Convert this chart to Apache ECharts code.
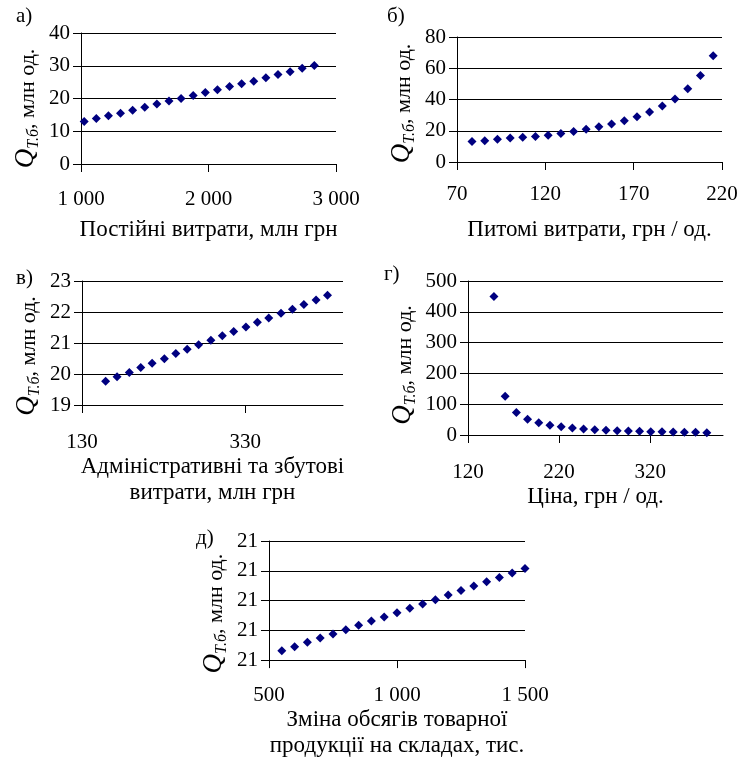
<!DOCTYPE html>
<html>
<head>
<meta charset="utf-8">
<script src="https://cdn.jsdelivr.net/npm/echarts@6/dist/echarts.min.js"></script>
<style>
  html, body { margin: 0; padding: 0; background: #fff; }
  #chart { width: 750px; height: 760px; }
</style>
</head>
<body>
<div id="chart"></div>
<script>
// а) постійні витрати
var fixedCost = [1025, 1120, 1215, 1310, 1405, 1500, 1595, 1690, 1785, 1880, 1975, 2070, 2165, 2260, 2355, 2450, 2545, 2640, 2735, 2830];
var qFixed = [13.0, 13.9, 14.7, 15.5, 16.4, 17.3, 18.3, 19.2, 20.0, 20.9, 21.8, 22.7, 23.7, 24.5, 25.3, 26.3, 27.3, 28.2, 29.2, 30.1];
// б) питомі витрати
var unitCost = [78.5, 85.7, 92.9, 100.1, 107.2, 114.4, 121.6, 128.8, 136.0, 143.1, 150.3, 157.5, 164.7, 171.9, 179.0, 186.2, 193.4, 200.6, 207.8, 215.0];
var qUnit = [13.2, 13.6, 14.5, 15.4, 15.8, 16.4, 17.1, 18.3, 19.6, 20.9, 22.6, 24.3, 26.4, 29.0, 32.0, 35.8, 40.3, 46.9, 55.4, 68.0];
// в) адміністративні та збутові витрати
var adminCost = [159, 173, 188, 202, 216, 231, 245, 259, 273, 288, 302, 316, 331, 345, 359, 374, 388, 402, 417, 431];
var qAdmin = [19.77, 19.91, 20.05, 20.21, 20.35, 20.49, 20.66, 20.80, 20.94, 21.09, 21.23, 21.37, 21.52, 21.67, 21.81, 21.96, 22.09, 22.24, 22.39, 22.54];
// г) ціна
var price = [148.5, 160.8, 173.1, 185.4, 197.7, 210.0, 222.3, 234.6, 246.9, 259.2, 271.5, 283.8, 296.1, 308.4, 320.7, 333.0, 345.3, 357.6, 369.9, 382.2];
var qPrice = [450, 126, 73, 51, 40, 32, 27, 23, 19.4, 17.3, 15.1, 14, 13, 11.9, 10.8, 10.5, 9.7, 8.6, 8.6, 7.6];
// д) зміна обсягів товарної продукції на складах
var stockChange = [550, 600, 650, 700, 750, 800, 850, 900, 950, 1000, 1050, 1100, 1150, 1200, 1250, 1300, 1350, 1400, 1450, 1500];
var qStock = [20.9662, 20.9690, 20.9720, 20.9748, 20.9776, 20.9804, 20.9834, 20.9862, 20.9890, 20.9918, 20.9948, 20.9976, 21.0006, 21.0037, 21.0067, 21.0097, 21.0127, 21.0155, 21.0185, 21.0215];

var panelLetters = ['а)', 'б)', 'в)', 'г)', 'д)'];
var xNames = ['Постійні витрати, млн грн', 'Питомі витрати, грн / од.', 'Адміністративні та збутові\nвитрати, млн грн', 'Ціна, грн / од.', 'Зміна обсягів товарної\nпродукції на складах, тис.'];

var FONT = '"Liberation Serif", "Times New Roman", serif';

function spaced(v) {
  return String(Math.round(v)).replace(/\B(?=(\d{3})+(?!\d))/g, ' ');
}

var grids = [
  {left: 81, top: 33, width: 255, height: 131},
  {left: 457, top: 37, width: 265, height: 125},
  {left: 82, top: 281, width: 261, height: 124},
  {left: 468, top: 281, width: 255, height: 154},
  {left: 269, top: 541, width: 256, height: 124}
];

var xRanges = [
  {min: 1000, max: 3000, interval: 1000},
  {min: 70, max: 220, interval: 50},
  {min: 130, max: 450, interval: 200, ticks: [130, 330]},
  {min: 120, max: 400, interval: 100, ticks: [120, 220, 320]},
  {min: 500, max: 1500, interval: 500}
];
var yRanges = [
  {min: 0, max: 40, interval: 10},
  {min: 0, max: 80, interval: 20},
  {min: 19, max: 23, interval: 1},
  {min: 0, max: 500, interval: 100},
  {min: 20.96, max: 21.04, interval: 0.02}
];
var xNameGap = [53, 55, 39, 42, 45];
var xLabelMargin = [25, 22, 27, 27, 25];
var yNameGap = [42, 42, 42, 52, 42];
var yNameShift = [20, 8, 26, 14, 26];

var xAxes = [], yAxes = [], titles = [];
for (var i = 0; i < 5; i++) {
  var xr = xRanges[i];
  var xa = {
    gridIndex: i, type: 'value', min: xr.min, max: xr.max, interval: xr.interval,
    name: xNames[i], nameLocation: 'middle', nameGap: xNameGap[i],
    nameTextStyle: {fontFamily: FONT, fontSize: 23, color: '#000', lineHeight: 26},
    axisLine: {onZero: false, lineStyle: {color: '#000', width: 1}},
    axisTick: {show: true, inside: false, length: 8, lineStyle: {color: '#000'}},
    splitLine: {show: false},
    axisLabel: {fontFamily: FONT, fontSize: 21, color: '#000', margin: xLabelMargin[i], formatter: spaced}
  };
  if (xr.ticks) {
    xa.axisTick.customValues = xr.ticks;
    xa.axisLabel.customValues = xr.ticks;
  }
  xAxes.push(xa);

  var yr = yRanges[i];
  yAxes.push({
    gridIndex: i, type: 'value', min: yr.min, max: yr.max, interval: yr.interval,
    name: '{q|Q}{s|Т.б}{t|, млн од.}', nameLocation: 'middle', nameGap: yNameGap[i], nameRotate: 90,
    nameTextStyle: {
      color: '#000',
      padding: [0, yNameShift[i], 0, 0],
      rich: {
        q: {fontFamily: FONT, fontStyle: 'italic', fontSize: 27, color: '#000', verticalAlign: 'bottom'},
        s: {fontFamily: FONT, fontStyle: 'italic', fontSize: 16, color: '#000', verticalAlign: 'bottom', padding: [0, 0, -3, 0]},
        t: {fontFamily: FONT, fontSize: 22, color: '#000', verticalAlign: 'bottom'}
      }
    },
    axisLine: {show: true, lineStyle: {color: '#000', width: 1}},
    axisTick: {show: true, inside: false, length: 8, lineStyle: {color: '#000'}},
    splitLine: {show: true, lineStyle: {color: '#000', width: 1}},
    axisLabel: {fontFamily: FONT, fontSize: 21, color: '#000', margin: 11,
      formatter: i === 4 ? function (v) { return String(Math.round(v)); } : spaced}
  });
}

titles = [
  {text: panelLetters[0], left: 16, top: 6},
  {text: panelLetters[1], left: 387, top: 6},
  {text: panelLetters[2], left: 16, top: 268},
  {text: panelLetters[3], left: 384, top: 264},
  {text: panelLetters[4], left: 196, top: 528}
];
titles.forEach(function (t) {
  t.padding = 0;
  t.textStyle = {fontFamily: FONT, fontSize: 21, fontWeight: 'normal', color: '#000'};
});

var xs = [fixedCost, unitCost, adminCost, price, stockChange];
var ys = [qFixed, qUnit, qAdmin, qPrice, qStock];
var series = [];
for (var k = 0; k < 5; k++) {
  var pts = [];
  for (var j = 0; j < xs[k].length; j++) pts.push([xs[k][j], ys[k][j]]);
  series.push({
    type: 'scatter', xAxisIndex: k, yAxisIndex: k, data: pts,
    symbol: 'diamond', symbolSize: 9,
    itemStyle: {color: '#000080', opacity: 1}, silent: true
  });
}

var chart = echarts.init(document.getElementById('chart'));
chart.setOption({
  animation: false,
  backgroundColor: '#fff',
  title: titles,
  grid: grids,
  xAxis: xAxes,
  yAxis: yAxes,
  series: series
});
</script>
</body>
</html>
